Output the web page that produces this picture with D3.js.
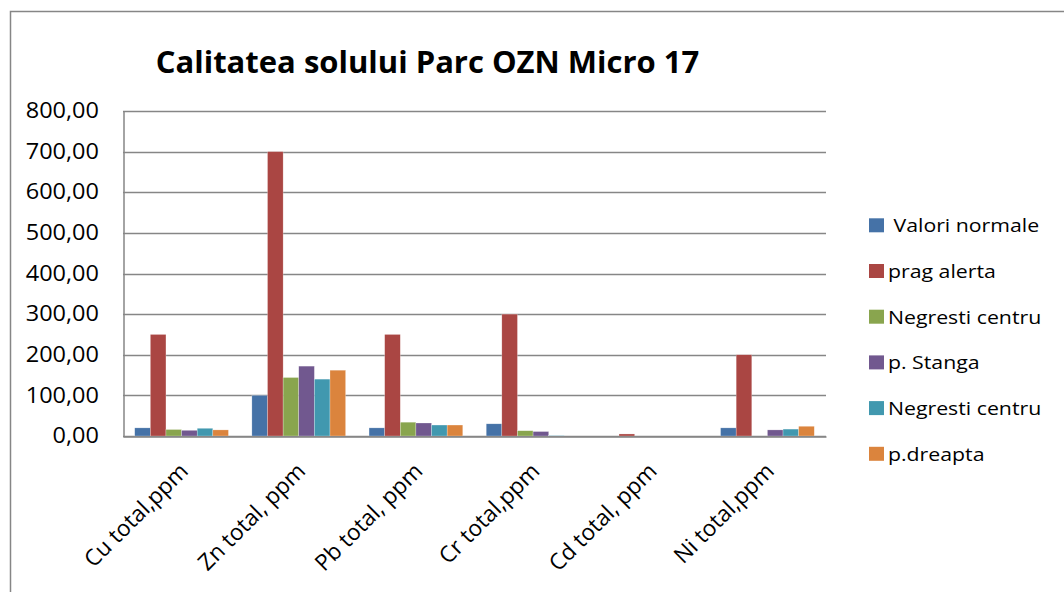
<!DOCTYPE html>
<html>
<head>
<meta charset="utf-8">
<script src="https://cdn.jsdelivr.net/npm/d3@7"></script>
<style>
  body { margin: 0; background: #fff; }
  text { font-family: "Open Sans", "Liberation Sans", sans-serif; }
</style>
</head>
<body>
<div id="chart"></div>
<script>
// categories on the x axis
let categories = ["Cu total,ppm", "Zn total, ppm", "Pb total, ppm", "Cr total,ppm", "Cd total, ppm", "Ni total,ppm"]

// one entry per legend series
let seriesNames = [" Valori normale", "prag alerta", "Negresti centru", "p. Stanga", "Negresti centru", "p.dreapta"]
let seriesColors = ["#4572A7", "#AA4643", "#89A54E", "#71588F", "#4198AF", "#DB843D"]

// values per series, same order as categories
let valoriNormale   = [20, 100, 20, 30, 0, 20]
let pragAlerta      = [250, 700, 250, 300, 5, 200]
let negrestiCentru  = [16, 144, 34, 13, 0, 0]
let pStanga         = [14, 172, 32, 11, 0, 15]
let negrestiCentru2 = [19, 140, 27, 1, 0, 17]
let pDreapta        = [15, 162, 27, 0, 0, 24]

let yTicks = [0, 100, 200, 300, 400, 500, 600, 700, 800]

let allSeries = [valoriNormale, pragAlerta, negrestiCentru, pStanga, negrestiCentru2, pDreapta]

let width = 1064, height = 592
let plot = {left: 123, right: 826, top: 111, bottom: 436}
let stretch = 1.12  // text in the original is a little wider than tall

let svg = d3.select("#chart")
  .append("svg")
  .attr("width", width)
  .attr("height", height)

// outer chart border (only top and left visible)
svg.append("path")
  .attr("d", "M10.5," + height + " L10.5,11.5 L" + width + ",11.5")
  .attr("fill", "none")
  .attr("stroke", "#868686")
  .attr("stroke-width", 1.5)

let x = d3.scaleBand()
  .domain(categories)
  .range([plot.left, plot.right])

// 150% gap width like the spreadsheet default
let x1 = d3.scaleBand()
  .domain(d3.range(seriesNames.length))
  .range([0, x.bandwidth()])
  .paddingOuter(0.75)
  .paddingInner(0)

let y = d3.scaleLinear()
  .domain([0, 800])
  .range([plot.bottom, plot.top])

// gridlines
svg.append("g")
  .selectAll("line")
  .data(yTicks)
  .enter()
  .append("line")
  .attr("x1", plot.left)
  .attr("x2", plot.right)
  .attr("y1", d => Math.round(y(d)) + 0.5)
  .attr("y2", d => Math.round(y(d)) + 0.5)
  .attr("stroke", "#868686")
  .attr("stroke-width", 1.5)

// y axis
let fmt = d => d3.format(".2f")(d).replace(".", ",")
let yAxis = svg.append("g")
  .attr("transform", "translate(" + (plot.left + 0.5) + ",0)")
  .call(d3.axisLeft(y).tickValues(yTicks).tickFormat(fmt).tickSize(0))
yAxis.select(".domain").attr("stroke", "#868686").attr("stroke-width", 1.5)
yAxis.selectAll(".tick text")
  .attr("x", 0)
  .attr("font-size", 21)
  .attr("fill", "#000")
  .attr("transform", "translate(-24.5,0) scale(" + stretch + ",1)")
  .style("font-family", "Open Sans, sans-serif")

// bars
let groups = svg.append("g")
  .selectAll("g")
  .data(allSeries)
  .enter()
  .append("g")
  .attr("fill", (d, i) => seriesColors[i])

groups.selectAll("rect")
  .data((d, i) => d.map((v, j) => ({s: i, cat: categories[j], value: v})))
  .enter()
  .append("rect")
  .attr("x", d => x(d.cat) + x1(d.s))
  .attr("width", x1.bandwidth())
  .attr("y", d => y(d.value))
  .attr("height", d => y(0) - y(d.value))
  .attr("stroke", "rgba(255,255,255,0.5)")
  .attr("stroke-width", 0.5)

// x axis
let xAxis = svg.append("g")
  .attr("transform", "translate(0," + (plot.bottom + 0.5) + ")")
  .call(d3.axisBottom(x).tickSize(0).tickPadding(0))
xAxis.select(".domain").attr("stroke", "#868686").attr("stroke-width", 1.5)
xAxis.selectAll(".tick text")
  .attr("font-size", 22.5)
  .attr("fill", "#000")
  .attr("text-anchor", "end")
  .attr("y", 0)
  .attr("dy", 0)
  .attr("transform", "translate(8,36) rotate(-45)")
  .style("font-family", "Open Sans, sans-serif")

// title
svg.append("text")
  .attr("x", 427.5)
  .attr("y", 73)
  .attr("text-anchor", "middle")
  .attr("font-size", 31)
  .attr("font-weight", "bold")
  .attr("fill", "#000")
  .text("Calitatea solului Parc OZN Micro 17")

// legend
let legend = svg.append("g")
  .selectAll("g")
  .data(seriesNames)
  .enter()
  .append("g")
  .attr("transform", (d, i) => "translate(869," + (218.3 + i * 45.7) + ")")

legend.append("rect")
  .attr("width", 15)
  .attr("height", 14)
  .attr("fill", (d, i) => seriesColors[i])

legend.append("text")
  .attr("transform", "translate(19,14) scale(" + stretch + ",1)")
  .attr("font-size", 19)
  .attr("fill", "#000")
  .attr("xml:space", "preserve")
  .style("white-space", "pre")
  .text(d => d)
</script>
</body>
</html>
